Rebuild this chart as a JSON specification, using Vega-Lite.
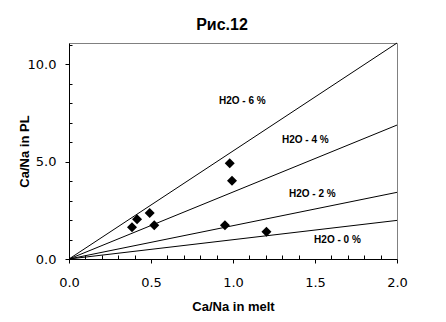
{
  "$schema": "https://vega.github.io/schema/vega-lite/v6.json",
  "width": 328,
  "height": 216,
  "autosize": "none",
  "padding": {"left": 69, "top": 43, "right": 49, "bottom": 63},
  "background": "white",
  "title": {"text": "Рис.12", "font": "Liberation Sans", "fontSize": 16, "fontWeight": "bold", "color": "black", "anchor": "middle", "dx": -11, "offset": 6},
  "config": {
    "view": {"stroke": "#808080", "strokeWidth": 1},
    "axis": {"domainColor": "black", "tickColor": "black", "labelColor": "black", "titleColor": "black", "grid": false, "ticks": true, "labelFont": "DejaVu Sans", "labelFontSize": 13, "titleFont": "Liberation Sans", "titleFontSize": 13, "titleFontWeight": "bold", "labelOverlap": false, "labelFlush": false}
  },
  "datasets": {
    "lines": [
      {"series": "6", "x": 0, "y": 0}, {"series": "6", "x": 2, "y": 11.08},
      {"series": "4", "x": 0, "y": 0}, {"series": "4", "x": 2, "y": 6.87},
      {"series": "2", "x": 0, "y": 0}, {"series": "2", "x": 2, "y": 3.42},
      {"series": "0", "x": 0, "y": 0}, {"series": "0", "x": 2, "y": 1.98}
    ],
    "points": [
      {"x": 0.384, "y": 1.63}, {"x": 0.415, "y": 2.04}, {"x": 0.492, "y": 2.36}, {"x": 0.52, "y": 1.73},
      {"x": 0.951, "y": 1.73}, {"x": 0.98, "y": 4.91}, {"x": 0.994, "y": 4.02}, {"x": 1.204, "y": 1.40}
    ],
    "labels": [
      {"x": 1.057, "y": 8.12, "text": "H2O - 6 %"},
      {"x": 1.441, "y": 6.09, "text": "H2O - 4 %"},
      {"x": 1.484, "y": 3.32, "text": "H2O - 2 %"},
      {"x": 1.637, "y": 0.96, "text": "H2O - 0 %"}
    ]
  },
  "encoding": {
    "x": {"field": "x", "type": "quantitative", "scale": {"domain": [0, 2], "nice": false, "zero": false},
      "axis": {"title": "Ca/Na in melt", "values": [0,0.1,0.2,0.3,0.4,0.5,0.6,0.7,0.8,0.9,1,1.1,1.2,1.3,1.4,1.5,1.6,1.7,1.8,1.9,2],
        "labelExpr": "abs(datum.value*2 - round(datum.value*2)) < 0.001 ? format(datum.value, '.1f') : ''",
        "tickSize": {"condition": {"test": "abs(datum.value*2 - round(datum.value*2)) < 0.001", "value": 4}, "value": -4},
        "labelPadding": 13, "titlePadding": 11}},
    "y": {"field": "y", "type": "quantitative", "scale": {"domain": [0, 11.08], "nice": false, "zero": false},
      "axis": {"title": "Ca/Na in PL", "values": [0,1,2,3,4,5,6,7,8,9,10,11],
        "labelExpr": "datum.value % 5 === 0 ? format(datum.value, '.1f') : ''",
        "tickSize": {"condition": {"test": "datum.value % 5 === 0", "value": 4}, "value": -3},
        "labelPadding": 9, "titlePadding": -4}}
  },
  "layer": [
    {
      "data": {"name": "lines"},
      "mark": {"type": "line", "color": "black", "strokeWidth": 1},
      "encoding": {
        "detail": {"field": "series"},
        "strokeWidth": {"condition": {"test": "datum.series === '2' || datum.series === '0'", "value": 1.5}, "value": 1}
      }
    },
    {
      "data": {"name": "points"},
      "mark": {"type": "point", "shape": "diamond", "filled": true, "color": "black", "size": 100, "opacity": 1}
    },
    {
      "data": {"name": "labels"},
      "mark": {"type": "text", "font": "Liberation Sans", "fontSize": 10, "fontWeight": "bold", "color": "black"},
      "encoding": {
        "text": {"field": "text"}
      }
    }
  ]
}
